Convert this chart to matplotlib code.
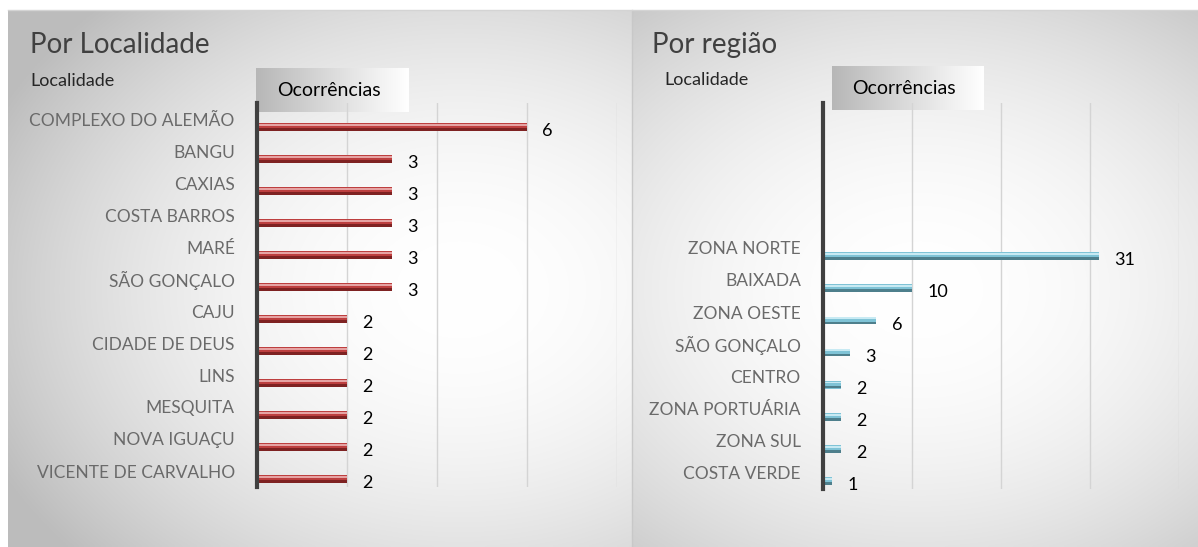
import numpy as np
import matplotlib.pyplot as plt

# data
loc_labels = ['COMPLEXO DO ALEMÃO', 'BANGU', 'CAXIAS', 'COSTA BARROS', 'MARÉ', 'SÃO GONÇALO',
              'CAJU', 'CIDADE DE DEUS', 'LINS', 'MESQUITA', 'NOVA IGUAÇU', 'VICENTE DE CARVALHO']
loc_values = [6, 3, 3, 3, 3, 3, 2, 2, 2, 2, 2, 2]
reg_labels = ['ZONA NORTE', 'BAIXADA', 'ZONA OESTE', 'SÃO GONÇALO', 'CENTRO',
              'ZONA PORTUÁRIA', 'ZONA SUL', 'COSTA VERDE']
reg_values = [31, 10, 6, 3, 2, 2, 2, 1]

plt.rcParams['font.family'] = ['Lato', 'DejaVu Sans']

W, H = 1198, 547
fig = plt.figure(figsize=(W / 100, H / 100), dpi=100)
fig.patch.set_facecolor('white')

# background panels with radial gradient
bg = fig.add_axes([0, 0, 1, 1])
bg.axis('off')


def panel(x0, x1, y0, y1, cx, cy):
    xs = np.linspace(x0, x1, 300)
    ys = np.linspace(y0, y1, 200)
    X, Y = np.meshgrid(xs, ys)
    r = np.sqrt(((X - cx) / 430) ** 2 + ((Y - cy) / 330) ** 2)
    v = 1.0 - 0.18 * np.clip(r, 0, 1.2) ** 2
    img = np.dstack([v, v, v])
    bg.imshow(img, extent=(x0, x1, y1, y0), aspect='auto', zorder=0, interpolation='bilinear')


panel(8, 632, 10, 547, 460, 290)
panel(632, 1198, 10, 547, 920, 290)
bg.plot([632, 632], [10, 547], color='#c8c8c8', lw=1, zorder=1)
bg.plot([8, 1198], [10, 10], color='#d4d4d4', lw=1, zorder=1)
bg.set_xlim(0, W)
bg.set_ylim(H, 0)


def header_box(x0, x1, y0, y1, text):
    grad = np.linspace(0.66, 1.0, 200) ** 0.8
    img = np.dstack([np.tile(grad, (10, 1))] * 3)
    bg.imshow(img, extent=(x0, x1, y1, y0), aspect='auto', zorder=3)
    bg.text((x0 + x1) / 2 - 4, (y0 + y1) / 2 + 1, text, ha='center', va='center',
            fontsize=14, color='black', zorder=4)


def bar_chart(rect, labels, values, xmax, step, main, light, dark):
    ax = fig.add_axes(rect)
    ax.patch.set_alpha(0)
    n_rows = 12
    pos = np.arange(len(labels)) + (n_rows - len(labels))
    bpos = pos + 0.26
    ax.barh(bpos, values, height=0.24, color=main, zorder=3)
    ax.barh(bpos - 0.07, values, height=0.06, color=light, zorder=4)
    ax.barh(bpos + 0.075, values, height=0.08, color=dark, zorder=4)
    for p, v in zip(bpos, values):
        ax.annotate(str(v), (v, p), xytext=(11, -3), textcoords='offset points',
                    ha='left', va='center', fontsize=13, color='black')
    ax.set_xlim(0, xmax)
    ax.set_ylim(n_rows - 0.5, -0.5)
    ax.set_yticks(pos)
    ax.set_yticklabels(labels, fontsize=12.5, color='#6a6a6a')
    ax.tick_params(axis='y', length=0, pad=16)
    ax.set_xticks(np.arange(step, xmax + step, step))
    ax.tick_params(axis='x', length=0, labelbottom=False)
    ax.grid(axis='x', color='#d4d4d4', lw=1, zorder=1)
    ax.set_axisbelow(True)
    for s in ['top', 'right', 'bottom']:
        ax.spines[s].set_visible(False)
    ax.spines['left'].set_color('#404040')
    ax.spines['left'].set_linewidth(3)
    ax.spines['left'].set_zorder(5)
    return ax


bar_chart([257 / W, 1 - 487 / H, 360 / W, 384 / H], loc_labels, loc_values, 8, 2,
          '#bd3f3f', '#e6a3a3', '#7e2222')
bar_chart([823 / W, 1 - 489 / H, 356 / W, 386 / H], reg_labels, reg_values, 40, 10,
          '#7fc3d6', '#c8eaf3', '#4e7f8c')

header_box(256, 409, 68, 112, 'Ocorrências')
header_box(832, 984, 66, 110, 'Ocorrências')

bg.text(30, 45, 'Por Localidade', fontsize=20, color='#404040', va='center', ha='left', zorder=4)
bg.text(30, 81, 'Localidade', fontsize=13, color='#262626', va='center', ha='left', zorder=4)
bg.text(652, 45, 'Por região', fontsize=20, color='#404040', va='center', ha='left', zorder=4)
bg.text(664, 80, 'Localidade', fontsize=13, color='#262626', va='center', ha='left', zorder=4)

fig.savefig('out.png', dpi=100)
